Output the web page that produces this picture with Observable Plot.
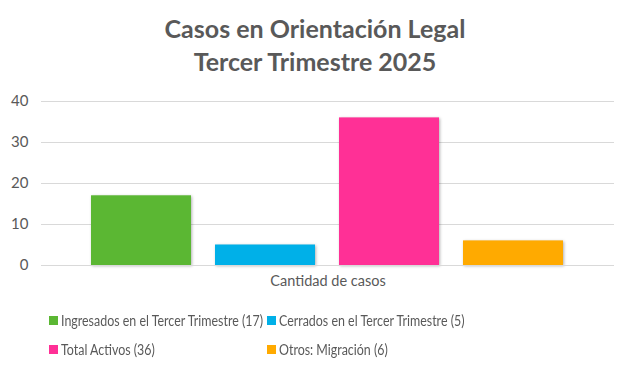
<!DOCTYPE html>
<html>
<head>
<meta charset="utf-8">
<script src="https://cdn.jsdelivr.net/npm/d3@7"></script>
<script src="https://cdn.jsdelivr.net/npm/@observablehq/plot@0.6"></script>
<style>
  html, body { margin: 0; padding: 0; background: #fff; }
  body { width: 630px; height: 368px; position: relative; overflow: hidden; font-family: Lato, "Open Sans", sans-serif; color: #595959; }
  #title { position: absolute; left: 0; top: 12px; width: 630px; text-align: center; font-weight: bold; font-size: 25px; line-height: 33px; color: #595959; }
  #chart { position: absolute; left: 0; top: 85px; }
  #legend { position: absolute; left: 0; top: 312px; width: 630px; font-size: 14.5px; color: #595959; }
  .item { position: absolute; display: flex; align-items: center; white-space: nowrap; }
  .sw { width: 9px; height: 9px; margin-right: 3px; flex: none; }
  .lbl { display: inline-block; transform-origin: left center; }
  .bar rect { filter: drop-shadow(1px 1px 1.5px rgba(0,0,0,0.3)); }
</style>
</head>
<body>
<div id="title">Casos en Orientación Legal<br>Tercer Trimestre 2025</div>
<div id="chart"></div>
<div id="legend"></div>
<script>
const categories = ["Ingresados en el Tercer Trimestre", "Cerrados en el Tercer Trimestre", "Total Activos", "Otros: Migración"];
const values = [17, 5, 36, 6];
const colors = ["#5BB733", "#00B0E8", "#FF3096", "#FFAA00"];
const yTicks = [0, 10, 20, 30, 40];
const xLabel = "Cantidad de casos";

const data = categories.map((c, i) => ({category: c, value: values[i], color: colors[i]}));

const chart = Plot.plot({
  width: 630,
  height: 210,
  marginTop: 16,
  marginBottom: 30,
  marginLeft: 41,
  marginRight: 16,
  style: {fontFamily: "Lato, 'Open Sans', sans-serif", fontSize: "15px", color: "#595959", background: "#fff"},
  x: {domain: categories, paddingInner: 0.1935, paddingOuter: 0.407, axis: null},
  y: {domain: [0, 40], ticks: yTicks, tickSize: 0, tickPadding: 13, label: null, grid: false},
  marks: [
    Plot.gridY(yTicks, {stroke: "#d9d9d9", strokeOpacity: 1, strokeWidth: 1}),
    Plot.barY(data, {x: "category", y: "value", fill: "color", className: "bar"}),
    Plot.ruleY([0], {stroke: "#d9d9d9", strokeWidth: 1}),
    Plot.text([xLabel], {frameAnchor: "bottom", dy: 20, fill: "#595959", fontSize: 14.5})
  ]
});
document.getElementById("chart").appendChild(chart);

const legend = document.getElementById("legend");
const pos = [[49, 0], [267, 0], [49, 29], [267, 29]];
const spans = [];
categories.forEach((c, i) => {
  const it = document.createElement("div");
  it.className = "item";
  it.style.left = pos[i][0] + "px";
  it.style.top = pos[i][1] + "px";
  const sw = document.createElement("div");
  sw.className = "sw";
  sw.style.background = colors[i];
  const t = document.createElement("span");
  t.className = "lbl";
  t.textContent = `${c} (${values[i]})`;
  it.appendChild(sw); it.appendChild(t);
  legend.appendChild(it);
  spans.push(t);
});
// Condense legend labels horizontally, as the reference font is narrower
const w0 = spans[0].getBoundingClientRect().width;
const k = Math.min(1, 202 / w0);
spans.forEach(s => { s.style.transform = `scaleX(${k})`; });
</script>
</body>
</html>
